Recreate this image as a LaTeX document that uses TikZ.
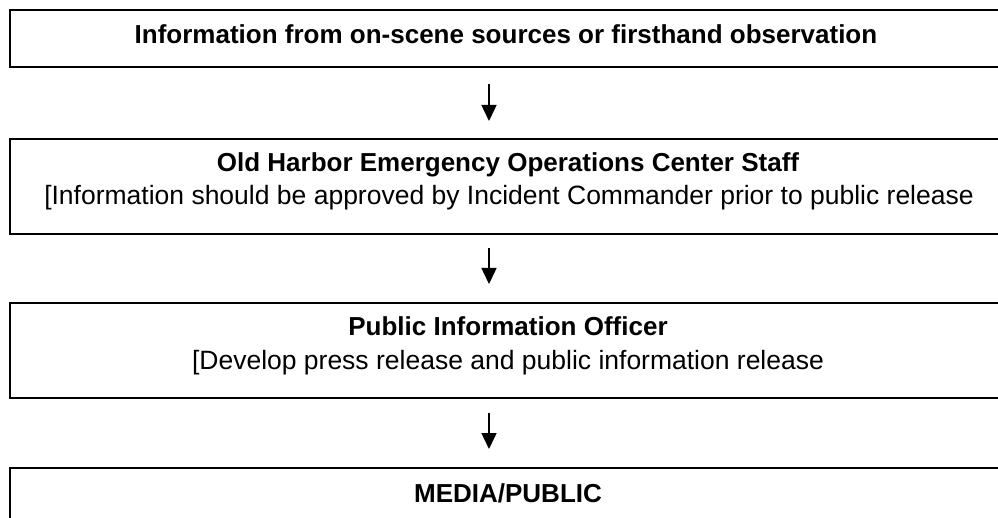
\documentclass[tikz,border=0pt]{standalone}
\usepackage{fontspec}
\setmainfont{Liberation Sans}
\usetikzlibrary{arrows.meta}
\begin{document}
\begin{tikzpicture}[x=1pt,y=-1pt,
  box/.style={draw=black, line width=1.6pt, minimum width=998pt, inner sep=0pt, anchor=north west},
  lbl/.style={anchor=base, inner sep=0pt, font=\fontsize{26.5}{30}\selectfont},
  hd/.style={anchor=base, inner sep=0pt, font=\fontsize{26}{30}\selectfont\bfseries},
  arr/.style={line width=1.5pt, -{Triangle[length=16pt,width=15pt]}}]
\useasboundingbox (0,0) rectangle (998,518);
\clip (0,0) rectangle (998,518);
\node[box, minimum height=57pt] (b1) at (9,9) {};
\node[box, minimum height=95pt] (b2) at (9,138) {};
\node[box, minimum height=95pt] (b3) at (9,302) {};
\node[box, minimum height=95pt] (b4) at (9,467) {};
\coordinate (ax) at (489,0);
\draw[arr, shorten <=16pt, shorten >=17pt] (b1.south -| ax) -- (b2.north -| ax);
\draw[arr, shorten <=13pt, shorten >=18pt] (b2.south -| ax) -- (b3.north -| ax);
\draw[arr, shorten <=14pt, shorten >=18pt] (b3.south -| ax) -- (b4.north -| ax);
\node[hd] (t1) at (506,44) {Information from on-scene sources or firsthand observation};
\node[hd] (t2) at (508,172) {Old Harbor Emergency Operations Center Staff};
\node[lbl] (t2b) at (509,205) {[Information should be approved by Incident Commander prior to public release};
\node[hd] (t3) at (508,336) {Public Information Officer};
\node[lbl] (t3b) at (508,369) {[Develop press release and public information release};
\node[hd] (t4) at (508,502) {MEDIA/PUBLIC};
\end{tikzpicture}
\end{document}
